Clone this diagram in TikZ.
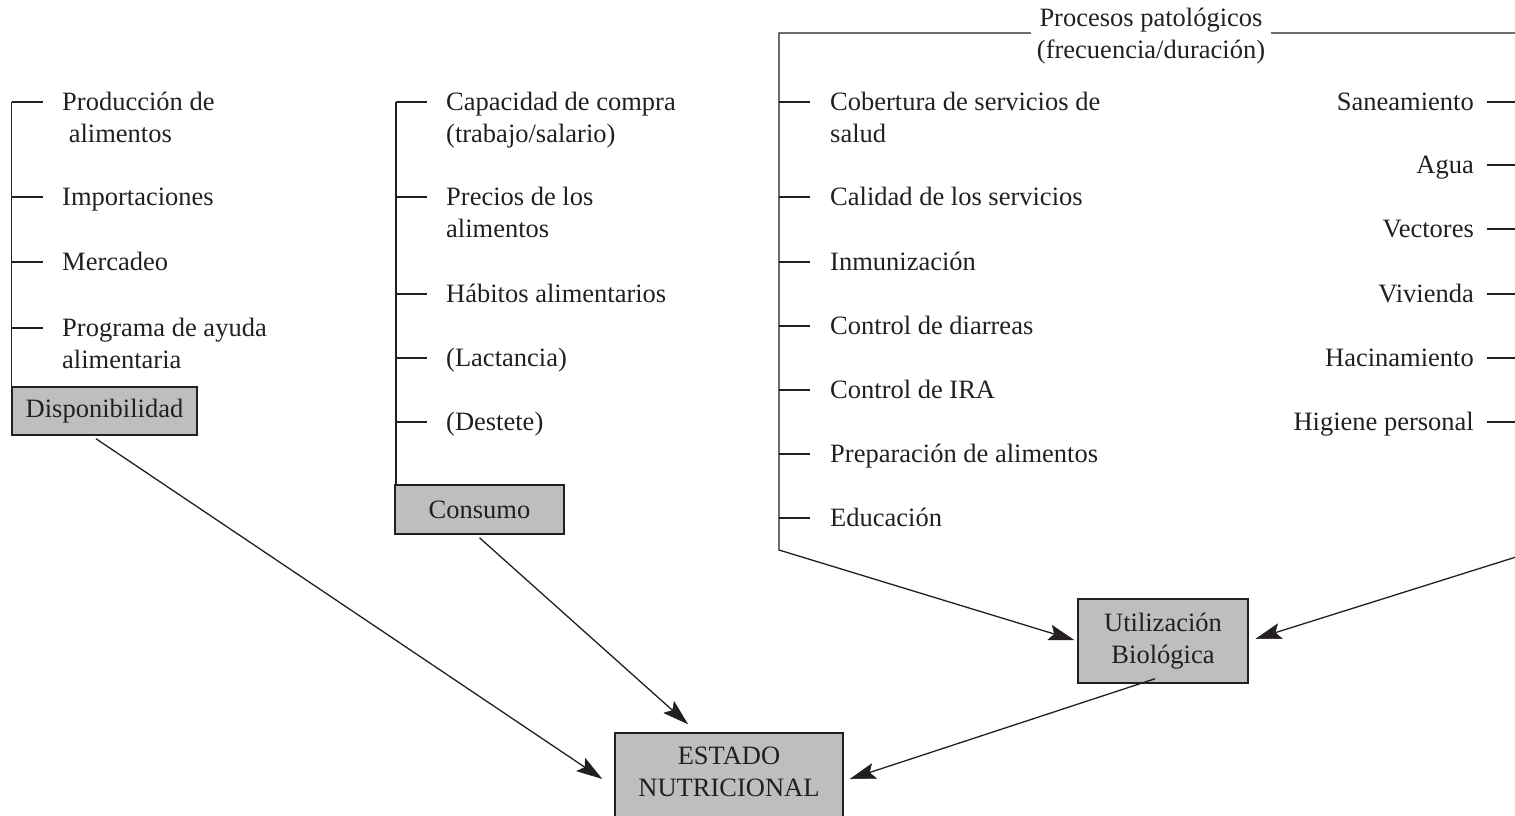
\documentclass[tikz,border=0pt]{standalone}
\usepackage{fontspec}
\setmainfont{Liberation Serif}
\usetikzlibrary{arrows.meta}
\definecolor{boxgray}{RGB}{190,190,192}
\definecolor{ink}{RGB}{35,31,32}
\tikzset{
  lbl/.style={inner sep=0pt, font=\fontsize{26.5}{32}\selectfont, text=ink},
  lbll/.style={lbl, anchor=north west, align=left, yshift=14.4pt},
  lblr/.style={lbl, anchor=north east, align=right, yshift=14.4pt},
  brk/.style={draw=ink, line width=1.3pt},
  box/.style={draw=ink, fill=boxgray, line width=1.5pt, inner sep=0pt,
    font=\fontsize{26.5}{32}\selectfont, text=ink, align=center},
  arr/.style={draw=ink, line width=1.3pt, line join=miter,
    -{Stealth[length=26pt,width=16pt,inset=5pt,line width=0.5pt]}}
}
\begin{document}
\begin{tikzpicture}[x=1pt,y=-1pt]
\useasboundingbox (0,0) rectangle (1515,816);

% ---------- Disponibilidad ----------
\node[box, minimum width=185pt, minimum height=48pt] (disp) at (104.5,411) {Disponibilidad};
\coordinate (Ltop) at (11.5,102);
\draw[brk] (Ltop) -- (Ltop |- disp.south);
\foreach \y in {102,197,262,328} \draw[brk] (11.5,\y) -- (43,\y);
\node[lbll] (prod) at (62,102) {\strut Producción de\\\strut\ alimentos};
\node[lbll] (impo) at (62,197) {\strut Importaciones};
\node[lbll] (merc) at (62,262) {\strut Mercadeo};
\node[lbll] (prog) at (62,328) {\strut Programa de ayuda\\\strut alimentaria};

% ---------- Consumo ----------
\node[box, minimum width=169pt, minimum height=49pt] (cons) at (479.5,509.5) {Consumo};
\coordinate (Mtop) at (396,102);
\draw[brk] (Mtop) -- (Mtop |- cons.north);
\foreach \y in {102,197,294,358,422} \draw[brk] (396,\y) -- (427,\y);
\node[lbll] (capa) at (446,102) {\strut Capacidad de compra\\\strut (trabajo/salario)};
\node[lbll] (prec) at (446,197) {\strut Precios de los\\\strut alimentos};
\node[lbll] (habi) at (446,294) {\strut Hábitos alimentarios};
\node[lbll] (lact) at (446,358) {\strut (Lactancia)};
\node[lbll] (dest) at (446,422) {\strut (Destete)};

% ---------- Utilizacion biologica ----------
\node[box, minimum width=170pt, minimum height=84pt] (util) at (1163,641) {Utilización\\Biológica};
\node[lbl, anchor=north, align=center, inner xsep=6pt, yshift=22.4pt] (proc) at (1151,26)
  {\strut Procesos patológicos\\\strut (frecuencia/duración)};
\coordinate (ptl) at (779,33);
\coordinate (pbl) at (779,550);
\coordinate (ptr) at (1516,33);
\coordinate (pbr) at (1516,557);
\draw[arr, shorten >=3pt] (proc.west |- ptl) -- (ptl) -- (pbl) -- (util.west);
\draw[arr, shorten >=7pt] (proc.east |- ptr) -- (ptr) -- (pbr) -- (util.east);

\foreach \y in {102,197,262,326,390,454,518} \draw[brk] (779,\y) -- (810,\y);
\node[lbll] (cobe) at (830,102) {\strut Cobertura de servicios de\\\strut salud};
\node[lbll] (cali) at (830,197) {\strut Calidad de los servicios};
\node[lbll] (inmu) at (830,262) {\strut Inmunización};
\node[lbll] (diar) at (830,326) {\strut Control de diarreas};
\node[lbll] (ira)  at (830,390) {\strut Control de IRA};
\node[lbll] (prep) at (830,454) {\strut Preparación de alimentos};
\node[lbll] (educ) at (830,518) {\strut Educación};

\foreach \y in {102,165,229,294,358,422} \draw[brk] (1487,\y) -- (1516,\y);
\node[lblr] (sane) at (1474,102) {\strut Saneamiento};
\node[lblr] (agua) at (1474,165) {\strut Agua};
\node[lblr] (vect) at (1474,229) {\strut Vectores};
\node[lblr] (vivi) at (1474,294) {\strut Vivienda};
\node[lblr] (haci) at (1474,358) {\strut Hacinamiento};
\node[lblr] (higi) at (1474,422) {\strut Higiene personal};

% ---------- Estado nutricional ----------
\node[box, minimum width=228pt, minimum height=92pt] (estado) at (729,779) {};
\node[lbl, anchor=north, align=center, yshift=22.4pt] (estadotxt) at (729,764)
  {\strut ESTADO\\\strut NUTRICIONAL};

% ---------- arrows to estado ----------
\draw[arr, shorten >=14.5pt] ([xshift=-8.5pt,yshift=-3pt]disp.south) -- ([yshift=-8pt]estado.west);
\draw[arr, shorten >=12pt] ([yshift=-3pt]cons.south) -- ([xshift=-32pt]estado.north);
\draw[arr, shorten >=6.3pt] ([xshift=-8pt,yshift=5pt]util.south) -- ([yshift=-2pt]estado.east);
\end{tikzpicture}
\end{document}
